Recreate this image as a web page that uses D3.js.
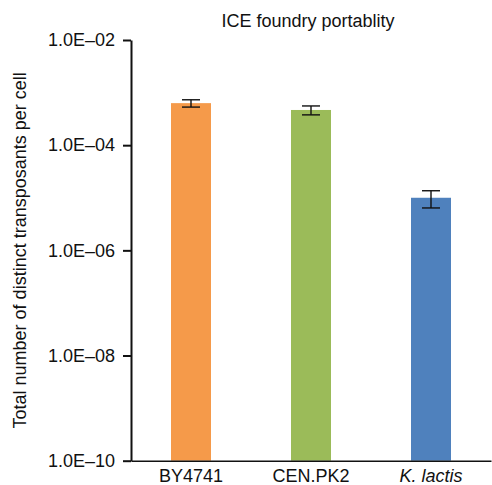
<!DOCTYPE html>
<html>
<head>
<meta charset="utf-8">
<script src="https://cdn.jsdelivr.net/npm/d3@7"></script>
<style>
  body { margin: 0; background: #fff; }
  text { font-family: "Liberation Sans", Arial, sans-serif; fill: #111; }
</style>
</head>
<body>
<div id="wrapper"></div>
<script>
const TITLE = "ICE foundry portablity";
const Y_LABEL = "Total number of distinct transposants per cell";

const strains = ["BY4741", "CEN.PK2", "K. lactis"];
const values = [6.3e-4, 4.67e-4, 1.0e-5];
const errors = [1.0e-4, 0.9e-4, 3.6e-6];
const colors = ["#F59A4A", "#9BBB59", "#4F81BD"];
const tickValues = [1e-10, 1e-8, 1e-6, 1e-4, 1e-2];
const tickLabels = ["1.0E\u201310", "1.0E\u201308", "1.0E\u201306", "1.0E\u201304", "1.0E\u201302"];

const data = strains.map((s, i) => ({
  strain: s,
  value: values[i],
  err: errors[i],
  color: colors[i]
}));

const xAccessor = d => d.strain;
const yAccessor = d => d.value;

const dimensions = {
  width: 492,
  height: 485,
  margin: {
    top: 40,
    right: 1,
    left: 131,
    bottom: 24.3
  }
};
dimensions.boundedWidth = dimensions.width
  - dimensions.margin.left
  - dimensions.margin.right;
dimensions.boundedHeight = dimensions.height
  - dimensions.margin.top
  - dimensions.margin.bottom;

const wrapper = d3.select("#wrapper")
  .append("svg")
  .attr("width", dimensions.width)
  .attr("height", dimensions.height);

const bounds = wrapper.append("g")
  .attr("transform", `translate(${dimensions.margin.left},${dimensions.margin.top})`);

const xScale = d3.scaleBand()
  .domain(strains)
  .range([0, dimensions.boundedWidth])
  .paddingInner(2 / 3)
  .paddingOuter(1 / 3);

const yScale = d3.scaleLog()
  .domain([1e-10, 1e-2])
  .range([dimensions.boundedHeight, 0]);

// bars
bounds.selectAll("rect.bar")
  .data(data)
  .join("rect")
  .attr("class", "bar")
  .attr("x", d => xScale(xAccessor(d)))
  .attr("y", d => yScale(yAccessor(d)))
  .attr("width", xScale.bandwidth())
  .attr("height", d => dimensions.boundedHeight - yScale(yAccessor(d)))
  .attr("fill", d => d.color);

// error bars
const capWidth = 18;
const errGroups = bounds.selectAll("g.err")
  .data(data)
  .join("g")
  .attr("class", "err")
  .attr("transform", d => `translate(${xScale(xAccessor(d)) + xScale.bandwidth() / 2},0)`)
  .attr("stroke", "#111")
  .attr("stroke-width", 1.4);

errGroups.append("line")
  .attr("y1", d => yScale(d.value + d.err))
  .attr("y2", d => yScale(d.value - d.err));
errGroups.append("line")
  .attr("x1", -capWidth / 2).attr("x2", capWidth / 2)
  .attr("y1", d => yScale(d.value + d.err))
  .attr("y2", d => yScale(d.value + d.err));
errGroups.append("line")
  .attr("x1", -capWidth / 2).attr("x2", capWidth / 2)
  .attr("y1", d => yScale(d.value - d.err))
  .attr("y2", d => yScale(d.value - d.err));

// y axis
const yAxisGenerator = d3.axisLeft(yScale)
  .tickValues(tickValues)
  .tickFormat((d, i) => tickLabels[i])
  .tickSize(8)
  .tickSizeOuter(0)
  .tickPadding(8);

const yAxis = bounds.append("g")
  .call(yAxisGenerator);
yAxis.select(".domain").attr("stroke", "#111").attr("stroke-width", 2);
yAxis.selectAll(".tick line").attr("stroke", "#111").attr("stroke-width", 2);
yAxis.selectAll(".tick text")
  .style("font-size", "18px")
  .attr("fill", "#111");

// x axis
const xAxisGenerator = d3.axisBottom(xScale)
  .tickSize(0)
  .tickSizeOuter(0)
  .tickPadding(9);

const xAxis = bounds.append("g")
  .call(xAxisGenerator)
  .attr("transform", `translate(0,${dimensions.boundedHeight})`);
xAxis.select(".domain").attr("stroke", "#111").attr("stroke-width", 1.5);
xAxis.selectAll(".tick text")
  .style("font-size", "18px")
  .attr("fill", "#111")
  .style("font-style", d => d === "K. lactis" ? "italic" : "normal");

// title
wrapper.append("text")
  .attr("x", dimensions.margin.left + dimensions.boundedWidth / 2 - 3)
  .attr("y", 27)
  .attr("text-anchor", "middle")
  .style("font-size", "18px")
  .text(TITLE);

// y label
wrapper.append("text")
  .attr("transform", `translate(26,${dimensions.margin.top + dimensions.boundedHeight / 2}) rotate(-90)`)
  .attr("text-anchor", "middle")
  .style("font-size", "18px")
  .text(Y_LABEL);
</script>
</body>
</html>
